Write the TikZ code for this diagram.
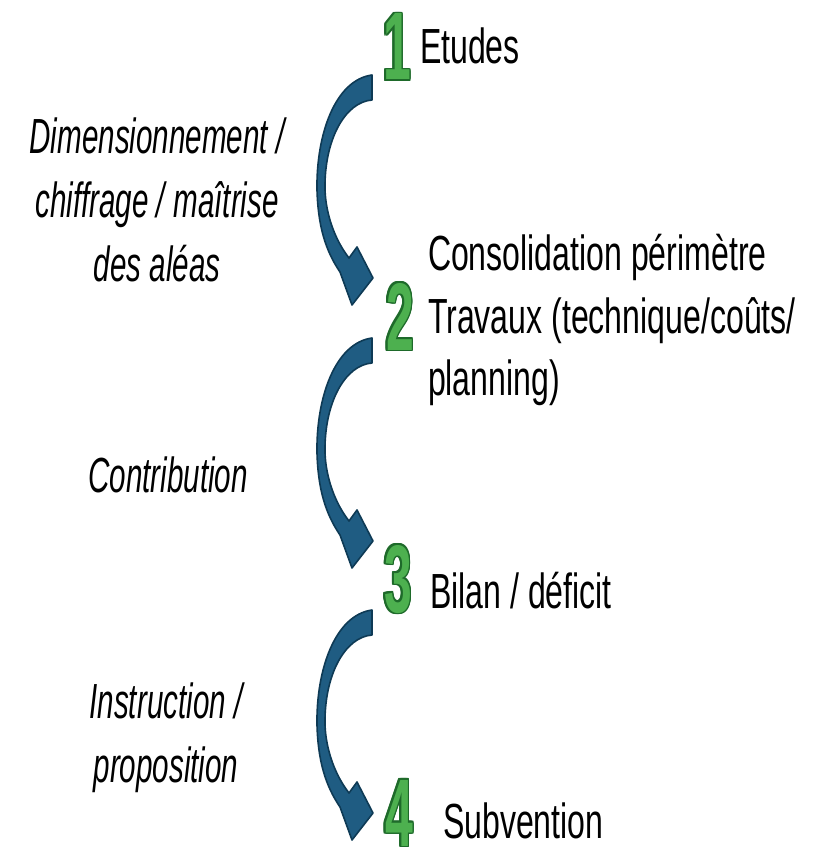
\documentclass[tikz,border=0pt]{standalone}
\usepackage{fontspec}
\setmainfont{Liberation Sans}[FakeStretch=0.65]
\newfontfamily\numfont{Liberation Sans}[FakeStretch=0.52]
\newfontfamily\slantfont{Liberation Sans Italic}[FakeStretch=0.6]
\usepackage[copies]{contour}
\contourlength{1.4pt}
\usetikzlibrary{positioning}
\definecolor{arrowblue}{HTML}{1F5C82}
\definecolor{arrowedge}{HTML}{0E3A55}
\definecolor{stepgreen}{HTML}{4DB04F}
\definecolor{stepedge}{HTML}{1E6A2A}
\tikzset{
  every node/.style={inner sep=0pt, outer sep=0pt},
  num/.style={font=\numfont\bfseries\fontsize{72}{72}\selectfont, anchor=base},
  stage/.style={font=\fontsize{37}{47}\selectfont, align=left},
  phase/.style={font=\slantfont\fontsize{37}{48}\selectfont, align=center},
  pics/turnarrow/.style={code={
    \filldraw[fill=arrowblue, draw=arrowedge, line width=1.2pt, line join=round]
      (0,0) .. controls (-37,5) and (-56,60) .. (-55,115)
      .. controls (-54,150) and (-47,175) .. (-32,197)
      -- (-20,230) -- (1,203) -- (-15,172) -- (-23,183)
      .. controls (-37,165) and (-46,140) .. (-47,115)
      .. controls (-48,65) and (-27,27) .. (0,25) -- cycle;
  }}
}

\begin{document}
\begin{tikzpicture}[x=0.75pt, y=-0.75pt]
  \useasboundingbox (0,0) rectangle (818,848);
  % numbers
  \node[num] (n1) at (397,80) {\contour{stepedge}{\textcolor{stepgreen}{1}}};
  \node[num] (n2) at (400,350) {\contour{stepedge}{\textcolor{stepgreen}{2}}};
  \node[num] (n3) at (398,612) {\contour{stepedge}{\textcolor{stepgreen}{3}}};
  \node[num] (n4) at (399,846) {\contour{stepedge}{\textcolor{stepgreen}{4}}};
  % stages
  \node[stage, anchor=base west] (t1) at (420,64) {Etudes};
  \node[stage, anchor=west] (t2) at (428,320) {Consolidation périmètre\\Travaux (technique/coûts/\\planning)};
  \node[stage, anchor=base west] (t3) at (430,608) {Bilan / déficit};
  \node[stage, anchor=base west] (t4) at (443,838) {Subvention};
  % phases
  \node[phase] (p1) at (157,200) {Dimensionnement /\\chiffrage / maîtrise\\des aléas};
  \node[phase] (p2) at (168,475) {Contribution};
  \node[phase] (p3) at (166,738) {Instruction /\\proposition};
  % arrows
  \pic at (372,75) {turnarrow};
  \pic at (372,338) {turnarrow};
  \pic at (372,610) {turnarrow};
\end{tikzpicture}
\end{document}
